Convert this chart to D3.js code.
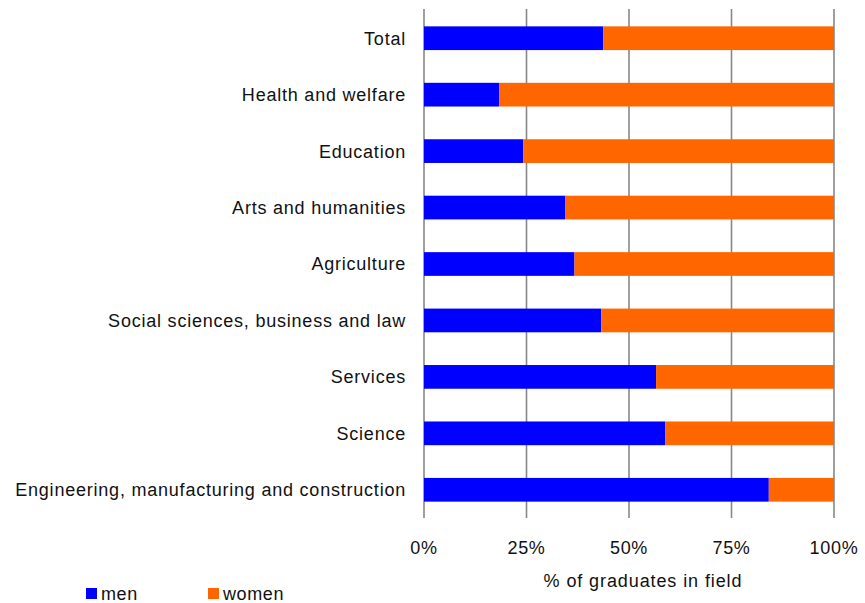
<!DOCTYPE html>
<html>
<head>
<meta charset="utf-8">
<script src="https://cdn.jsdelivr.net/npm/d3@7"></script>
<style>
  html, body { margin: 0; padding: 0; background: #fff; }
  text { font-family: "Liberation Sans", Arial, sans-serif; fill: #111; }
</style>
</head>
<body>
<svg id="chart" width="865" height="603"></svg>
<script>
const categories = [
  "Total",
  "Health and welfare",
  "Education",
  "Arts and humanities",
  "Agriculture",
  "Social sciences, business and law",
  "Services",
  "Science",
  "Engineering, manufacturing and construction"
];
const menValues = [43.7, 18.4, 24.2, 34.5, 36.7, 43.2, 56.6, 58.8, 84.1];
const womenValues = menValues.map(v => 100 - v);
const tickValues = [0, 25, 50, 75, 100];
const tickLabels = ["0%", "25%", "50%", "75%", "100%"];
const seriesNames = ["men", "women"];
const seriesColors = ["#0000ff", "#ff6600"];

const svg = d3.select("#chart");
const x = d3.scaleLinear().domain([0, 100]).range([424, 834]);
const y = d3.scaleBand().domain(categories).range([10, 518]).paddingInner(0.58).paddingOuter(0.29);

// gridlines
svg.append("g").selectAll("line").data(tickValues).join("line")
  .attr("x1", d => x(d)).attr("x2", d => x(d))
  .attr("y1", 9).attr("y2", 518)
  .attr("stroke", "#888").attr("stroke-width", 1.6);

const rows = categories.map((c, i) => ({c, men: menValues[i], women: womenValues[i]}));
const stack = d3.stack().keys(["men", "women"])(rows);

svg.append("g").selectAll("g").data(stack).join("g")
  .attr("fill", (d, i) => seriesColors[i])
  .selectAll("rect").data(d => d).join("rect")
  .attr("x", d => x(d[0]))
  .attr("width", d => x(d[1]) - x(d[0]))
  .attr("y", d => y(d.data.c))
  .attr("height", y.bandwidth());

// category labels
svg.append("g").selectAll("text").data(categories).join("text")
  .attr("x", 406)
  .attr("y", d => y(d) + y.bandwidth() / 2)
  .attr("dy", "0.36em")
  .attr("text-anchor", "end")
  .attr("font-size", 18)
  .attr("letter-spacing", 0.78)
  .text(d => d);

// tick labels
svg.append("g").selectAll("text").data(tickValues).join("text")
  .attr("x", d => x(d))
  .attr("y", 554)
  .attr("text-anchor", "middle")
  .attr("font-size", 18)
  .attr("letter-spacing", 0.7)
  .text((d, i) => tickLabels[i]);

svg.append("text")
  .attr("x", 643).attr("y", 587)
  .attr("text-anchor", "middle")
  .attr("font-size", 18)
  .attr("letter-spacing", 0.9)
  .text("% of graduates in field");

// legend
const legendX = [86, 208];
const lg = svg.append("g").selectAll("g").data(seriesNames).join("g")
  .attr("transform", (d, i) => `translate(${legendX[i]},588)`);
lg.append("rect").attr("width", 11).attr("height", 11).attr("fill", (d, i) => seriesColors[i]);
lg.append("text").attr("x", 15).attr("y", 11.5).attr("font-size", 18).attr("letter-spacing", 0.6).text(d => d);
</script>
</body>
</html>
